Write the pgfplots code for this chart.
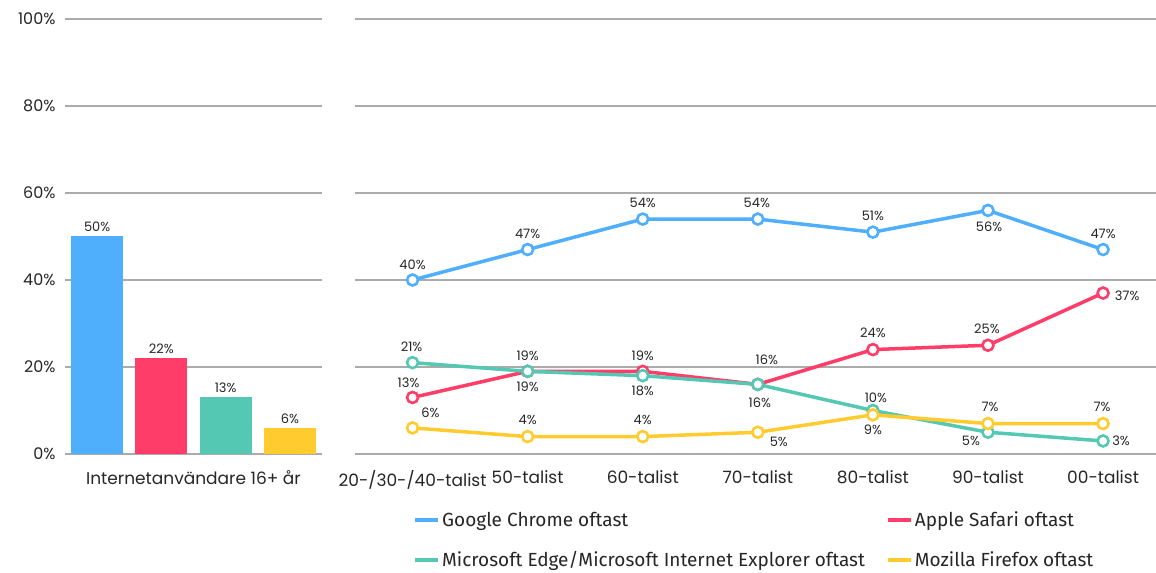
\documentclass[border=0pt]{standalone}
\usepackage{pgfplots}
\pgfplotsset{compat=1.18}
\usepackage{fontspec}
\setmainfont{Poppins}
\newfontfamily\legfont{Fira Sans}

\definecolor{cblue}{HTML}{4FAFFC}
\definecolor{cred}{HTML}{FF3D68}
\definecolor{cgreen}{HTML}{55C8B4}
\definecolor{cyellow}{HTML}{FFCB2E}
\definecolor{cgrid}{HTML}{ABABAB}

% data label: x, y, shift right, shift up, text
\newcommand{\lab}[5]{\node[font=\fontsize{13bp}{15bp}\selectfont, text=black!85, inner sep=0pt]
  at (axis cs:#1,#2) [xshift=#3bp, yshift=#4bp] {#5\%};}

\pgfplotsset{
  base/.style={
    scale only axis, height=435bp,
    ymin=0, ymax=100, ytick={0,20,...,100},
    ymajorgrids, grid style={cgrid, line width=1.2bp},
    axis line style={draw=none}, major tick length=0pt,
    /pgf/number format/assume math mode=true,
    tick label style={font=\fontsize{16bp}{18bp}\selectfont, text=black!85},
    xticklabel style={font=\fontsize{17bp}{19bp}\selectfont, yshift=-13bp},
  },
  ln/.style={line width=3.5bp, mark=*, mark size=5.5bp,
    mark options={fill=white, line width=2.6bp}},
}

\begin{document}
\begin{tikzpicture}
\path[use as bounding box] (0bp,0bp) rectangle (1156bp,573bp);

\begin{axis}[base, at={(65bp,119bp)}, anchor=south west, width=257bp,
  xmin=-0.5, xmax=3.5,
  yticklabel={\pgfmathprintnumber{\tick}\%},
  yticklabel style={xshift=-6bp},
  xtick={1.5}, xticklabels={Internetanvändare 16+ år},
  ]
  \addplot[ybar, bar width=52bp, bar shift=0pt, fill=cblue, draw=none] coordinates {(0,50)};
  \addplot[ybar, bar width=52bp, bar shift=0pt, fill=cred, draw=none] coordinates {(1,22)};
  \addplot[ybar, bar width=52bp, bar shift=0pt, fill=cgreen, draw=none] coordinates {(2,13)};
  \addplot[ybar, bar width=52bp, bar shift=0pt, fill=cyellow, draw=none] coordinates {(3,6)};
  \lab{0}{50}{0}{9.5}{50}
  \lab{1}{22}{0}{9.5}{22}
  \lab{2}{13}{0}{9.5}{13}
  \lab{3}{6}{0}{9.5}{6}
\end{axis}

\begin{axis}[base, at={(355bp,119bp)}, anchor=south west, width=801bp,
  xmin=-0.5, xmax=6.46, yticklabels={},
  xtick={0,...,6},
  xticklabels={20-/30-/40-talist,50-talist,60-talist,70-talist,80-talist,90-talist,00-talist},
  legend columns=2, legend cell align=left,
  legend style={at={(0.0687,-0.124)}, anchor=north west, draw=none, fill=none,
    font=\legfont\fontsize{19bp}{21bp}\selectfont,
    /tikz/every even column/.append style={column sep=19bp},
    row sep=19bp, text=black!85},
  legend image code/.code={\draw[line width=4bp] (0bp,0bp) -- (23bp,0bp);},
  ]
  \addplot[ln, cblue] coordinates {(0,40) (1,47) (2,54) (3,54) (4,51) (5,56) (6,47)};
  \addlegendentry{Google Chrome oftast}
  \addplot[ln, cred] coordinates {(0,13) (1,19) (2,19) (3,16) (4,24) (5,25) (6,37)};
  \addlegendentry{Apple Safari oftast}
  \addplot[ln, cgreen] coordinates {(0,21) (1,19) (2,18) (3,16) (4,10) (5,5) (6,3)};
  \addlegendentry{Microsoft Edge/Microsoft Internet Explorer oftast}
  \addplot[ln, cyellow] coordinates {(0,6) (1,4) (2,4) (3,5) (4,9) (5,7) (6,7)};
  \addlegendentry{Mozilla Firefox oftast}

  \lab{0}{40}{0}{15}{40}
  \lab{1}{47}{0}{16}{47}
  \lab{2}{54}{0}{16}{54}
  \lab{3}{54}{-1}{16}{54}
  \lab{4}{51}{0}{16}{51}
  \lab{5}{56}{1}{-16}{56}
  \lab{6}{47}{0}{16}{47}

  \lab{0}{13}{-4}{15}{13}
  \lab{1}{19}{0}{16}{19}
  \lab{2}{19}{0}{16}{19}
  \lab{3}{16}{9}{25}{16}
  \lab{4}{24}{0}{17}{24}
  \lab{5}{25}{-1}{16}{25}
  \lab{6}{37}{24}{-3}{37}

  \lab{0}{21}{-1}{16}{21}
  \lab{1}{19}{0}{-15}{19}
  \lab{2}{18}{0}{-15}{18}
  \lab{3}{16}{2}{-18}{16}
  \lab{4}{10}{3}{13}{10}
  \lab{5}{5}{-17}{-9}{5}
  \lab{6}{3}{18}{0}{3}

  \lab{0}{6}{18}{15}{6}
  \lab{1}{4}{0}{17}{4}
  \lab{2}{4}{0}{17}{4}
  \lab{3}{5}{21}{-10}{5}
  \lab{4}{9}{0}{-15}{9}
  \lab{5}{7}{2}{17}{7}
  \lab{6}{7}{-1}{17}{7}
\end{axis}
\end{tikzpicture}
\end{document}
